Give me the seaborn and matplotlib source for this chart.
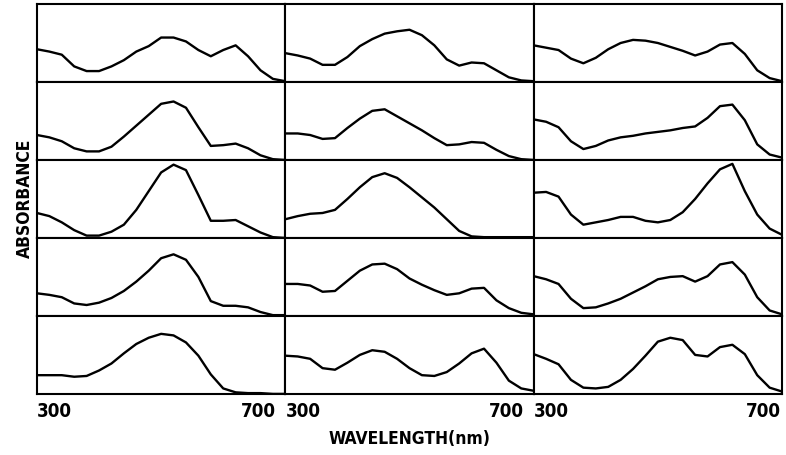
import numpy as np
import pandas as pd
import matplotlib
matplotlib.use("Agg")
import matplotlib.pyplot as plt
import matplotlib.transforms as mtransforms
import seaborn as sns

sns.set_style("white")
plt.rcParams['font.family'] = ['DejaVu Sans']
plt.rcParams['font.stretch'] = 'condensed'
plt.rcParams['font.weight'] = 'bold'
plt.rcParams['text.color'] = 'black'
plt.rcParams['xtick.color'] = 'black'

# wavelength grid (nm), shared by every panel
wavelength = [300, 320, 340, 360, 380, 400, 420, 440, 460, 480, 500,
              520, 540, 560, 580, 600, 620, 640, 660, 680, 700]

# absorbance, relative to panel height (row, column)
r1c1 = [0.42, 0.39, 0.35, 0.20, 0.14, 0.14, 0.20, 0.28, 0.39, 0.46, 0.57,
        0.57, 0.52, 0.41, 0.33, 0.41, 0.47, 0.33, 0.15, 0.04, 0.01]
r2c1 = [0.32, 0.29, 0.24, 0.15, 0.11, 0.11, 0.17, 0.30, 0.44, 0.58, 0.72,
        0.75, 0.67, 0.42, 0.18, 0.19, 0.21, 0.15, 0.06, 0.01, 0.00]
r3c1 = [0.32, 0.28, 0.20, 0.10, 0.03, 0.03, 0.08, 0.17, 0.36, 0.60, 0.84,
        0.94, 0.87, 0.55, 0.22, 0.22, 0.23, 0.15, 0.07, 0.01, 0.00]
r4c1 = [0.29, 0.27, 0.24, 0.16, 0.14, 0.17, 0.23, 0.32, 0.44, 0.58, 0.74,
        0.79, 0.72, 0.50, 0.19, 0.13, 0.13, 0.11, 0.05, 0.01, 0.01]
r5c1 = [0.24, 0.24, 0.24, 0.22, 0.23, 0.30, 0.39, 0.52, 0.64, 0.72, 0.77,
        0.75, 0.66, 0.49, 0.25, 0.07, 0.02, 0.01, 0.01, 0.00, 0.00]

r1c2 = [0.37, 0.34, 0.30, 0.22, 0.22, 0.32, 0.46, 0.55, 0.62, 0.65, 0.67,
        0.60, 0.47, 0.29, 0.21, 0.25, 0.24, 0.15, 0.06, 0.02, 0.01]
r2c2 = [0.34, 0.34, 0.32, 0.27, 0.28, 0.41, 0.53, 0.63, 0.65, 0.56, 0.47,
        0.38, 0.28, 0.19, 0.20, 0.23, 0.22, 0.13, 0.05, 0.01, 0.00]
r3c2 = [0.24, 0.28, 0.31, 0.32, 0.36, 0.50, 0.65, 0.78, 0.83, 0.77, 0.65,
        0.52, 0.39, 0.24, 0.09, 0.02, 0.01, 0.01, 0.01, 0.01, 0.01]
r4c2 = [0.41, 0.41, 0.39, 0.31, 0.32, 0.45, 0.58, 0.66, 0.67, 0.60, 0.48,
        0.40, 0.33, 0.27, 0.29, 0.35, 0.36, 0.20, 0.10, 0.04, 0.02]
r5c2 = [0.49, 0.48, 0.45, 0.33, 0.31, 0.40, 0.50, 0.56, 0.54, 0.45, 0.33,
        0.24, 0.23, 0.28, 0.39, 0.52, 0.58, 0.40, 0.17, 0.07, 0.04]

r1c3 = [0.47, 0.44, 0.41, 0.30, 0.24, 0.31, 0.42, 0.50, 0.54, 0.53, 0.50,
        0.45, 0.40, 0.34, 0.39, 0.48, 0.50, 0.36, 0.15, 0.05, 0.01]
r2c3 = [0.52, 0.49, 0.42, 0.24, 0.14, 0.18, 0.25, 0.29, 0.31, 0.34, 0.36,
        0.38, 0.41, 0.43, 0.54, 0.69, 0.71, 0.51, 0.20, 0.07, 0.03]
r3c3 = [0.58, 0.59, 0.53, 0.30, 0.17, 0.20, 0.23, 0.27, 0.27, 0.22, 0.20,
        0.23, 0.33, 0.50, 0.70, 0.88, 0.95, 0.60, 0.30, 0.12, 0.04]
r4c3 = [0.51, 0.47, 0.41, 0.22, 0.10, 0.11, 0.16, 0.22, 0.30, 0.38, 0.47,
        0.50, 0.51, 0.44, 0.51, 0.66, 0.69, 0.53, 0.24, 0.07, 0.02]
r5c3 = [0.51, 0.45, 0.38, 0.18, 0.08, 0.07, 0.09, 0.18, 0.32, 0.49, 0.67,
        0.72, 0.69, 0.50, 0.48, 0.60, 0.63, 0.51, 0.24, 0.08, 0.03]

panels = [[r1c1, r1c2, r1c3],
          [r2c1, r2c2, r2c3],
          [r3c1, r3c2, r3c3],
          [r4c1, r4c2, r4c3],
          [r5c1, r5c2, r5c3]]

fig, axes = plt.subplots(5, 3, figsize=(7.86, 4.56), dpi=100, sharex=True, sharey=True,
                         gridspec_kw=dict(hspace=0, wspace=0))
fig.subplots_adjust(left=0.047, right=0.995, top=0.989, bottom=0.134)

for i in range(5):
    for j in range(3):
        ax = axes[i, j]
        df = pd.DataFrame({'wl': wavelength, 'abs': panels[i][j]})
        sns.lineplot(data=df, x='wl', y='abs', ax=ax, color='black', linewidth=1.7)
        ax.set_xlim(300, 700)
        ax.set_ylim(0, 1)
        ax.set_xlabel('')
        ax.set_ylabel('')
        ax.set_yticks([])
        for s in ax.spines.values():
            s.set_linewidth(1.5)
            s.set_color('black')
        ax.tick_params(axis='x', length=0, pad=5, labelsize=13.5)
        ax.set_xticks([300, 700])
        if i == 4:
            labels = ax.set_xticklabels(['300', '700'])
            labels[0].set_horizontalalignment('left')
            labels[1].set_horizontalalignment('right')
            # leave a gap before the next panel's "300"
            shift = -7 if j < 2 else -1
            offset = mtransforms.ScaledTranslation(shift / 72, 0, fig.dpi_scale_trans)
            labels[1].set_transform(labels[1].get_transform() + offset)

fig.text(0.521, 0.037, 'WAVELENGTH(nm)', ha='center', va='center', fontsize=12.5)
fig.text(0.032, 0.565, 'ABSORBANCE', ha='center', va='center', rotation=90, fontsize=12.5)

plt.savefig('out.png', dpi=100)
plt.close()
